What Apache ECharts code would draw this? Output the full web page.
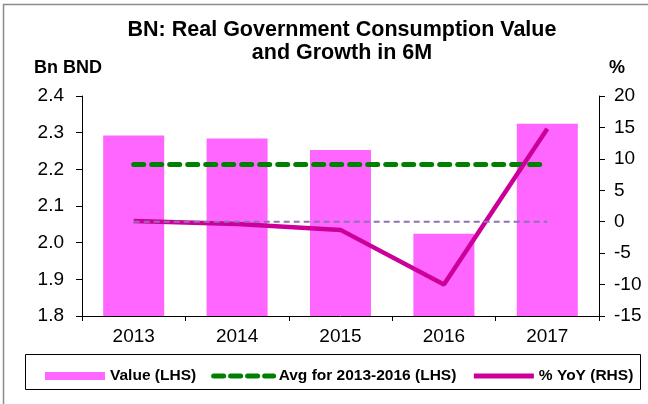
<!DOCTYPE html>
<html>
<head>
<meta charset="utf-8">
<script src="https://cdn.jsdelivr.net/npm/echarts@6/dist/echarts.min.js"></script>
<style>
  html, body { margin: 0; padding: 0; background: #fff; }
  #chart { width: 648px; height: 404px; }
</style>
</head>
<body>
<div id="chart"></div>
<script>
// data
const years = ['2013', '2014', '2015', '2016', '2017']
const valueLHS = [2.292, 2.284, 2.253, 2.024, 2.324]      // Bn BND
const avgLHS = [2.213, 2.213, 2.213, 2.213, 2.213]        // avg 2013-2016
const yoyRHS = [0.1, -0.35, -1.3, -10.0, 14.8]            // %
const zeroRHS = [0, 0, 0, 0, 0]
const leftTicks = [1.8, 2.4, 0.1]   // min, max, step
const rightTicks = [-15, 20, 5]

const font = 'Liberation Sans, Arial, sans-serif'
const chart = echarts.init(document.getElementById('chart'))

const option = {
    animation: false,
    backgroundColor: '#fff',
    textStyle: { fontFamily: font, color: '#000' },
    title: {
        text: 'BN: Real Government Consumption Value\nand Growth in 6M',
        left: 337,
        top: 14,
        textAlign: 'center',
        textStyle: { fontFamily: font, fontSize: 21.5, fontWeight: 'bold', color: '#000', lineHeight: 23 }
    },
    graphic: [
        // outer frame
        { type: 'rect', shape: { x: 3.5, y: 4.5, width: 700, height: 420 }, style: { fill: 'none', stroke: '#8c8c8c', lineWidth: 1.5 }, silent: true },
        // legend box
        { type: 'rect', shape: { x: 25.5, y: 354.5, width: 615, height: 35 }, style: { fill: 'none', stroke: '#000', lineWidth: 1 }, silent: true }
    ],
    grid: { left: 82, right: 49, top: 96, bottom: 88 },
    legend: {
        left: 40,
        top: 363,
        itemWidth: 60,
        itemHeight: 8,
        itemGap: 15,
        data: [
            { name: 'Value (LHS)', icon: 'rect' },
            { name: 'Avg for 2013-2016 (LHS)', itemStyle: { opacity: 0 }, lineStyle: { width: 5, type: [10, 7], cap: 'round' } },
            { name: '% YoY (RHS)', itemStyle: { opacity: 0 }, lineStyle: { width: 5 } }
        ],
        textStyle: { fontFamily: font, fontSize: 15.5, fontWeight: 'bold', color: '#000' }
    },
    xAxis: {
        type: 'category',
        data: years,
        axisLine: { onZero: false, lineStyle: { color: '#000', width: 1 } },
        axisTick: { show: true, length: 5, lineStyle: { color: '#000' } },
        axisLabel: { fontSize: 19, color: '#000', margin: 11 }
    },
    yAxis: [
        {
            type: 'value',
            min: leftTicks[0], max: leftTicks[1], interval: leftTicks[2],
            name: 'Bn BND',
            nameLocation: 'end',
            nameGap: 19,
            nameTextStyle: { fontFamily: font, fontSize: 18, fontWeight: 'bold', color: '#000', align: 'center', padding: [0, 28, 0, 0] },
            axisLine: { show: true, lineStyle: { color: '#000' } },
            axisTick: { show: true, length: 6, lineStyle: { color: '#000' } },
            axisLabel: { fontSize: 19, color: '#000', margin: 18, formatter: v => v.toFixed(1) },
            splitLine: { show: false }
        },
        {
            type: 'value',
            position: 'right',
            min: rightTicks[0], max: rightTicks[1], interval: rightTicks[2],
            name: '%',
            nameLocation: 'end',
            nameGap: 19,
            nameTextStyle: { fontFamily: font, fontSize: 18, fontWeight: 'bold', color: '#000', align: 'center', padding: [0, 0, 0, 36] },
            axisLine: { show: true, lineStyle: { color: '#000' } },
            axisTick: { show: true, length: 6, lineStyle: { color: '#000' } },
            axisLabel: { fontSize: 19, color: '#000', margin: 15 },
            splitLine: { show: false }
        }
    ],
    series: [
        {
            name: 'Value (LHS)',
            type: 'bar',
            data: valueLHS,
            barWidth: '59%',
            itemStyle: { color: '#ff66ff' },
            z: 1
        },
        {
            name: 'Avg for 2013-2016 (LHS)',
            type: 'line',
            data: avgLHS,
            symbol: 'none',
            lineStyle: { color: '#008000', width: 5, type: [10, 8], cap: 'round' },
            itemStyle: { color: '#008000' },
            z: 3
        },
        {
            name: '% YoY (RHS)',
            type: 'line',
            yAxisIndex: 1,
            data: yoyRHS,
            symbol: 'none',
            lineStyle: { color: '#cc0099', width: 4.5 },
            itemStyle: { color: '#cc0099' },
            z: 4
        },
        {
            name: 'zero',
            type: 'line',
            yAxisIndex: 1,
            data: zeroRHS,
            symbol: 'none',
            lineStyle: { color: '#8f72b5', width: 2, type: [6, 4] },
            z: 5
        }
    ]
}
chart.setOption(option)
</script>
</body>
</html>
